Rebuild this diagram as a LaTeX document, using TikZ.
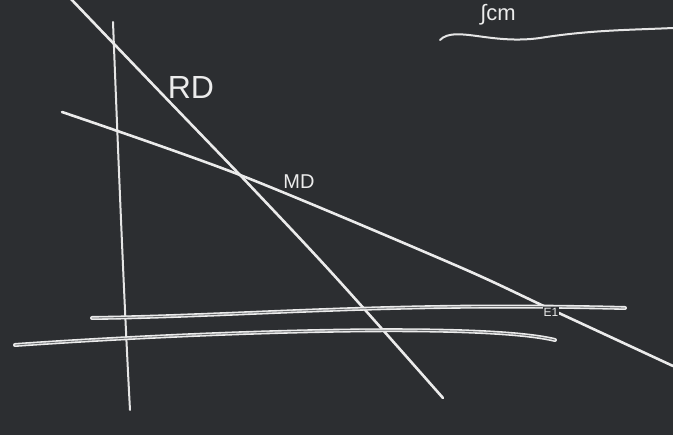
\documentclass[tikz,border=0pt]{standalone}
\usepackage{fontspec}
\setmainfont{Liberation Sans}
\begin{document}
\begin{tikzpicture}[x=1pt,y=-1pt,
  chalk/.style={draw=white!84!gray, line width=2.6pt, line cap=round},
  chalkthin/.style={draw=white!80!gray, line width=2pt, line cap=round},
  chalkdbl/.style={draw=white!84!gray, line width=4pt, line cap=round},
  chalkcore/.style={draw=board!70!white, line width=0.8pt},
  lbl/.style={text=white!85!gray, inner sep=0pt, font=\fontsize{#1}{#1}\selectfont},
  lbl/.default=20]
\definecolor{board}{RGB}{44,46,49}
\fill[board] (0,0) rectangle (673,435);
\useasboundingbox (0,0) rectangle (673,435);
\begin{scope}
\clip (0,0) rectangle (673,435);
% axis
\coordinate (ytop) at (113,22);
\coordinate (ybot) at (130,410);
\draw[chalkthin] (ytop) .. controls (118,150) and (124,300) .. (ybot);
% RD line
\coordinate (rda) at (70,-2);
\coordinate (rdx) at (240,175);
\coordinate (rdb) at (443,398);
\draw[chalk] (rda) .. controls (160,92) .. (rdx) .. controls (330,270) .. (rdb);
% MD line
\coordinate (mda) at (62,112);
\coordinate (mdb) at (673,366);
\draw[chalk] plot[smooth, tension=0.5] coordinates {(62,112) (240,175) (455,265) (548,308) (673,366)};
% horizontal lines
\coordinate (h1a) at (92,318);
\coordinate (h1b) at (625,308);
\draw[chalkdbl] (h1a) .. controls (250,316) and (380,302) .. (h1b);
\draw[chalkcore] (h1a) .. controls (250,316) and (380,302) .. (h1b);
\coordinate (h2a) at (15,345);
\coordinate (h2b) at (555,340);
\draw[chalkdbl] (h2a) .. controls (200,332) and (480,322) .. (h2b);
\draw[chalkcore] (h2a) .. controls (200,332) and (480,322) .. (h2b);
% top-right underline
\coordinate (ula) at (440,40);
\coordinate (ulb) at (673,28);
\draw[chalkthin] (ula) .. controls (455,25) and (490,45) .. (540,38) .. controls (590,30) and (630,30) .. (ulb);
% labels
\node[lbl=32, anchor=center] (rd) at (191,87) {RD};
\node[lbl=20, anchor=center] (md) at (299,182) {MD};
\node[lbl=12, anchor=center, fill=board, inner sep=0.5pt] (e1) at (551,312) {E1};
\node[lbl=22, anchor=center] (top) at (498,15) {∫cm};
\end{scope}
\end{tikzpicture}
\end{document}
